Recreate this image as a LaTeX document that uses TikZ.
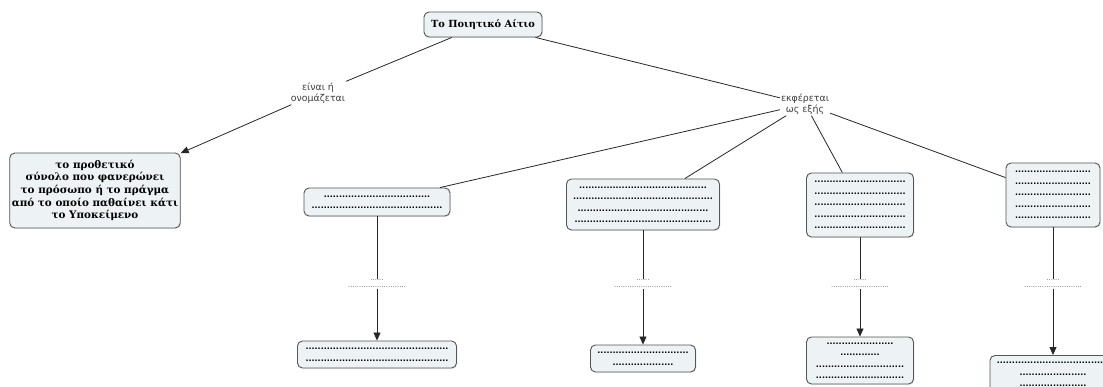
\documentclass[tikz,border=0pt]{standalone}
\usepackage{fontspec}
\usepackage{tikz}
\usetikzlibrary{positioning, arrows.meta, shadows}
\newfontfamily\cmapserif{DejaVu Serif}
\newfontfamily\cmapsans{DejaVu Sans}
\definecolor{boxfill}{HTML}{EDF2F4}
\definecolor{rim}{HTML}{555555}
\colorlet{wire}{black!85}
\colorlet{dotgrey}{black!60}
\newcommand\dotrow[1]{\foreach\k in {1,...,#1}{.}}
\tikzset{
  card/.style   ={draw=rim, fill=boxfill, rounded corners=5pt, line width=0.9pt,
                  align=center, inner sep=2pt,
                  drop shadow={opacity=0.15, shadow xshift=1pt, shadow yshift=-1pt}},
  Lroot/.style  ={card, font=\cmapserif\bfseries\fontsize{9.8}{12}\selectfont,
                  minimum width=118pt, minimum height=25pt},
  Ldef/.style   ={card, font=\cmapserif\bfseries\fontsize{10.4}{12.6}\selectfont,
                  minimum width=170pt, minimum height=75pt},
  Ldots/.style  ={card, font=\cmapsans\bfseries\fontsize{8}{11.5}\selectfont,
                  text=black},
  Llink/.style  ={fill=white, inner sep=1pt, align=center, text=black!75,
                  font=\cmapsans\fontsize{9.4}{11.5}\selectfont},
  Lmid/.style   ={fill=white, inner sep=0.5pt, align=center, text=dotgrey,
                  font=\cmapsans\fontsize{7}{11}\selectfont},
  wireline/.style ={-, wire, line width=0.8pt},
  wirearrow/.style={-{Triangle[length=8pt, width=7pt]}, wire, line width=0.8pt},
}
\begin{document}
\begin{tikzpicture}[x=1pt, y=-1pt]
\useasboundingbox (0,0) rectangle (1103,387);

\node[Lroot] (root) at (483,24.5) {Το Ποιητικό Αίτιο};
\node[Llink] (isL)  at (318,93) {είναι ή\\ονομάζεται};
\node[Llink] (expL) at (805,104) {εκφέρεται\\ως εξής};
\node[Ldef] (defbox) at (95,190.5)
  {το προθετικό\\σύνολο που φανερώνει\\το πρόσωπο ή το πράγμα\\από το οποίο παθαίνει κάτι\\το Υποκείμενο};

\draw[wireline] (root) -- (isL);
\draw[wirearrow] (isL) -- (defbox);
\draw[wireline] (root) -- (expL);

% upper row of forms
\node[Ldots, minimum width=146pt, minimum height=28pt] (A1) at (377,202)
  {\dotrow{35}\\\dotrow{43}};
\node[Ldots, minimum width=153pt, minimum height=51pt] (A2) at (643,204.5)
  {\dotrow{42}\\\dotrow{46}\\\dotrow{43}\\\dotrow{45}};
\node[Ldots, minimum width=107pt, minimum height=64pt] (A3) at (860,205)
  {\dotrow{30}\\\dotrow{30}\\\dotrow{30}\\\dotrow{30}\\\dotrow{30}};
\node[Ldots, minimum width=94pt, minimum height=64pt] (A4) at (1053,195)
  {\dotrow{25}\\\dotrow{25}\\\dotrow{25}\\\dotrow{25}\\\dotrow{25}};

% lower row
\node[Ldots, minimum width=159pt, minimum height=27pt] (B1) at (377,354.5)
  {\dotrow{47}\\\dotrow{47}};
\node[Ldots, minimum width=105pt, minimum height=27pt] (B2) at (643,358.5)
  {\dotrow{30}\\\dotrow{20}};
\node[Ldots, minimum width=107pt, minimum height=47pt] (B3) at (860,360.5)
  {\dotrow{22}\\\dotrow{13}\\\dotrow{29}\\\dotrow{29}};
\node[Ldots, minimum width=126pt, minimum height=50pt, anchor=north] (B4) at (1053,355)
  {\dotrow{37}\\\dotrow{22}\\\dotrow{22}\\\dotrow{37}};

\foreach \i/\x in {1/377, 2/643, 3/860, 4/1053} {
  \draw[wireline] (expL) -- (A\i);
  \node[Lmid] (M\i) at (\x,284) {\dotrow{6}\\[-4pt]\dotrow{26}};
  \draw[wireline] (A\i) -- (M\i);
  \draw[wirearrow] (M\i) -- (B\i);
}

\end{tikzpicture}
\end{document}
